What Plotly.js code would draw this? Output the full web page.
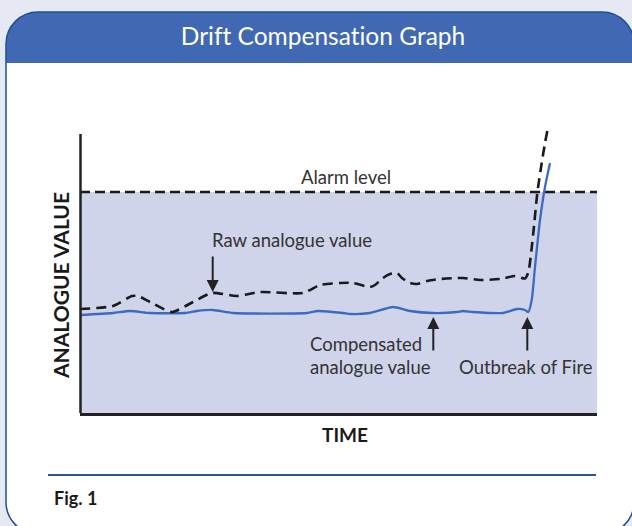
<!DOCTYPE html>
<html><head><meta charset="utf-8">
<script src="https://cdn.plot.ly/plotly-3.0.1.min.js"></script>
<style>html,body{margin:0;padding:0;background:#e6e8f4;}#chart{width:632px;height:526px;}svg text{font-variant-ligatures:none;font-feature-settings:"liga" 0;}</style>
</head><body><div id="chart"></div>
<script>
// Data (arbitrary time / analogue units)
const alarmTime = [0, 517];
const alarmLevel = [221, 221];
const rawTime = [0, 33, 52, 58, 70, 92, 113, 132, 157, 180, 223, 240, 260, 273, 290, 295, 303, 310, 317, 322, 330, 337, 347, 360, 383, 400, 420, 435, 445, 448.3, 453.3, 457.3, 461.7, 465, 467.3];
const rawValue = [104, 107, 117, 117, 111, 101, 111, 120, 117, 121, 120, 128, 130, 130, 126, 128, 135, 139, 140, 135, 130, 129, 132, 134, 135, 133, 134, 137, 134.5, 140.5, 180, 220, 250, 270, 282];
const compTime = [0, 33, 50, 70, 105, 117, 133, 153, 227, 238, 263, 270, 290, 313, 330, 353, 377, 383, 393, 423, 437, 445, 448.3, 451.7, 455, 460, 465, 470];
const compValue = [98, 100, 102, 100, 100, 102, 103, 100, 100, 102, 100, 99, 100, 106, 102, 100, 101, 102, 101, 100, 104, 103, 101, 113, 146, 193, 226, 250];
const labels = {
  title: 'Drift Compensation Graph', xTitle: 'TIME', yTitle: 'ANALOGUE VALUE',
  alarm: 'Alarm level', raw: 'Raw analogue value', comp1: 'Compensated', comp2: 'analogue value',
  fire: 'Outbreak of Fire', fig: 'Fig. 1'
};

// pixel -> paper helpers (layout only)
const L = 80, T = 130, W = 517, H = 283;
const X = px => (px - L) / W;
const Y = py => (T + H - py) / H;
const k = 0.5523;
function roundRect(x0, y0, x1, y1, r, bottomRound) {
  const p = [];
  const pt = (x, y) => X(x).toFixed(5) + ',' + Y(y).toFixed(5);
  p.push('M' + pt(x0, y0 + r));
  p.push('C' + pt(x0, y0 + r * (1 - k)) + ' ' + pt(x0 + r * (1 - k), y0) + ' ' + pt(x0 + r, y0));
  p.push('L' + pt(x1 - r, y0));
  p.push('C' + pt(x1 - r * (1 - k), y0) + ' ' + pt(x1, y0 + r * (1 - k)) + ' ' + pt(x1, y0 + r));
  if (bottomRound) {
    p.push('L' + pt(x1, y1 - r));
    p.push('C' + pt(x1, y1 - r * (1 - k)) + ' ' + pt(x1 - r * (1 - k), y1) + ' ' + pt(x1 - r, y1));
    p.push('L' + pt(x0 + r, y1));
    p.push('C' + pt(x0 + r * (1 - k), y1) + ' ' + pt(x0, y1 - r * (1 - k)) + ' ' + pt(x0, y1 - r));
  } else {
    p.push('L' + pt(x1, y1));
    p.push('L' + pt(x0, y1));
  }
  p.push('Z');
  return p.join(' ');
}

const FONT = 'Lato, "Open Sans", sans-serif';
const traces = [
  {x: alarmTime, y: alarmLevel, type: 'scatter', mode: 'lines', fill: 'tozeroy', fillcolor: '#d0d4eb',
   line: {color: '#1a1a1a', width: 2.5, dash: '10px,5px'}, hoverinfo: 'skip', showlegend: false},
  {x: compTime, y: compValue, type: 'scatter', mode: 'lines', line: {color: '#3b6bc1', width: 2.3, shape: 'spline', smoothing: 0.6}, showlegend: false},
  {x: rawTime, y: rawValue, type: 'scatter', mode: 'lines', line: {color: '#1a1a1a', width: 2.6, dash: '10px,6px', shape: 'spline', smoothing: 0.6}, showlegend: false}
];

const textColor = '#333333';
const ann = (text, px, py, opts) => Object.assign({xref: 'paper', yref: 'paper', x: X(px), y: Y(py), text: text, showarrow: false,
  xanchor: 'left', yanchor: 'middle', font: {family: FONT, size: 18.5, color: textColor}}, opts || {});
const arrow = (hx, hy, ayOff) => ({xref: 'paper', yref: 'paper', x: X(hx), y: Y(hy), ax: 0, ay: ayOff, text: '', showarrow: true,
  arrowhead: 2, arrowsize: 1.2, arrowwidth: 2, arrowcolor: '#222222', standoff: 0});

const layout = {
  width: 632, height: 526,
  margin: {l: L, r: 632 - L - W, t: T, b: 526 - T - H, pad: 0},
  paper_bgcolor: '#e6e8f4', plot_bgcolor: 'rgba(0,0,0,0)',
  title: {text: labels.title, font: {family: FONT, size: 24.5, color: '#ffffff'}, x: X(323), xanchor: 'center', xref: 'paper', y: 1 - 36 / 526, yanchor: 'middle', yref: 'container'},
  xaxis: {range: [0, 517], showgrid: false, zeroline: false, showticklabels: false, ticks: '', showline: true, linecolor: '#222222', linewidth: 2.5, fixedrange: true},
  yaxis: {range: [0, 283], showgrid: false, zeroline: false, showticklabels: false, ticks: '', showline: false, fixedrange: true},
  shapes: [
    {type: 'path', xref: 'paper', yref: 'paper', path: roundRect(6, 12, 634, 534, 32, true), fillcolor: '#ffffff', line: {width: 0}, layer: 'below'},
    {type: 'path', xref: 'paper', yref: 'paper', path: roundRect(6, 12, 634, 63, 32, false), fillcolor: '#4169b3', line: {width: 0}, layer: 'below'},
    {type: 'path', xref: 'paper', yref: 'paper', path: roundRect(6, 12, 634, 534, 32, true), fillcolor: 'rgba(0,0,0,0)', line: {color: '#1f4f8f', width: 1.5}, layer: 'below'},
    {type: 'line', xref: 'paper', yref: 'paper', x0: X(80.5), x1: X(80.5), y0: Y(413), y1: Y(134), line: {color: '#222222', width: 2.5}},
    {type: 'line', xref: 'paper', yref: 'paper', x0: X(48), x1: X(596), y0: Y(475), y1: Y(475), line: {color: '#2a5593', width: 2}}
  ],
  annotations: [
    ann(labels.alarm, 299, 177),
    ann(labels.raw, 210, 240),
    ann(labels.comp1, 308, 344),
    ann(labels.comp2, 308, 367),
    ann(labels.fire, 457, 367),
    ann(labels.xTitle, 345, 434, {xanchor: 'center', font: {family: FONT, size: 19, color: '#1a1a1a', weight: 700}}),
    ann(labels.yTitle, 60, 286, {xanchor: 'center', textangle: -90, font: {family: FONT, size: 21, color: '#1a1a1a', weight: 700}}),
    ann(labels.fig, 52, 498, {font: {family: FONT, size: 18, color: '#1a1a1a', weight: 700}}),
    arrow(212.7, 292, -37),
    arrow(433.3, 317, 35),
    arrow(527.3, 317, 35)
  ]
};

Plotly.newPlot('chart', traces, layout, {displayModeBar: false, staticPlot: true});
</script></body></html>
